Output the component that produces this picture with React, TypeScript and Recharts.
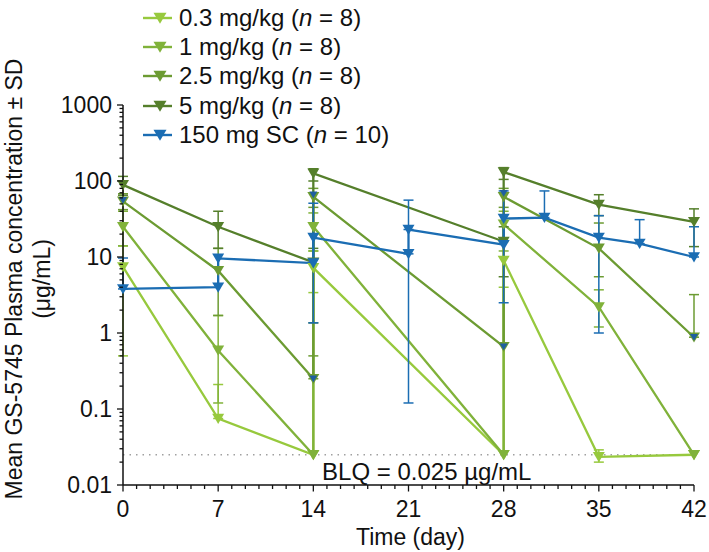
import React from "react";
import {
  ComposedChart,
  Line,
  XAxis,
  YAxis,
  ErrorBar,
  ReferenceLine,
  Legend,
} from "recharts";

const FONT = '"Liberation Sans", Arial, Helvetica, sans-serif';
const INK = "#111";

// IV cohorts: dose at day 0, 14, 28 (trough then peak at the dosing days)
const ivDays = [0, 7, 14, 14, 28, 28, 35, 42];

const mean03 = [7.4, 0.075, 0.025, 7.2, 0.025, 9.0, 0.0235, 0.025];
const lo03 = [0.5, null, null, 3.4, null, 4.0, 0.02, null];
const hi03 = [14, 0.21, null, 12, null, 16, 0.029, null];

const mean1 = [25, 0.59, 0.025, 25, 0.025, 27, 2.2, 0.025];
const lo1 = [14, 0.12, null, 12, null, 12, 1.2, null];
const hi1 = [40, 1.7, null, 38, null, 40, 3.7, null];

const mean25 = [54, 6.6, 0.25, 62, 0.66, 62, 13, 0.88];
const lo25 = [42, 1.7, null, 45, null, 45, 5.5, null];
const hi25 = [68, 13, 0.5, 80, null, 80, 28, 3.2];

const mean5 = [89, 25, 8.5, 126, 16, 131, 49, 29];
const lo5 = [65, 13, 1.36, 100, 5.5, 105, 35, 13.7];
const hi5 = [115, 40, 13, 145, 25, 150, 66, 43];

// SC cohort: weekly dosing
const scDays = [0, 7, 7, 14, 14, 21, 21, 28, 28, 31, 35, 38, 42];
const meanSC = [3.8, 4.0, 9.6, 8.3, 18, 11, 23, 14.5, 32, 33, 18, 15, 10];
const loSC = [null, null, null, null, 1.36, 0.12, null, null, 2.5, null, 1.0, null, null];
const hiSC = [9.7, null, null, null, 51, null, 56, null, 74, 74, 35, 31, 25];

// small blue markers sitting on the 2.5 mg/kg dosing-day points
const blueDotDays = [0, 14, 14, 28, 28, 42];
const blueDotVals = [56, 0.25, 66, 0.66, 69, 0.88];

const doseLabels = ["0.3 mg/kg", "1 mg/kg", "2.5 mg/kg", "5 mg/kg", "150 mg SC"];
const nValues = [8, 8, 8, 8, 10];
const colors = ["#97c93d", "#80b23a", "#6c9b32", "#557f2b", "#1b6db3"];

const xMajor = [0, 7, 14, 21, 28, 35, 42];
const xTicks = Array.from({ length: 43 }, (_, i) => i);
const yMajor = [0.01, 0.1, 1, 10, 100, 1000];
const yMajorLabels = ["0.01", "0.1", "1", "10", "100", "1000"];
const yMinorFactors = [2, 3, 4, 5, 6, 7, 8, 9];
const yTicks = [
  ...yMajor.slice(0, -1).flatMap((d) => [d, ...yMinorFactors.map((m) => d * m)]),
  1000,
];

const BLQ = 0.025;

function rows(days: number[], mean: number[], lo: (number | null)[], hi: (number | null)[]) {
  return days.map((d, i) => {
    const l = lo[i];
    const h = hi[i];
    const err =
      l == null && h == null
        ? null
        : [l == null ? 0 : mean[i] - l, h == null ? 0 : h - mean[i]];
    return { day: d, conc: mean[i], err };
  });
}

const series = [
  rows(ivDays, mean03, lo03, hi03),
  rows(ivDays, mean1, lo1, hi1),
  rows(ivDays, mean25, lo25, hi25),
  rows(ivDays, mean5, lo5, hi5),
  rows(scDays, meanSC, loSC, hiSC),
];

const blueDots = blueDotDays.map((d, i) => ({ day: d, conc: blueDotVals[i] }));

function triPath(cx: number, cy: number, s: number) {
  return `M${cx - s},${cy - s * 0.8} L${cx + s},${cy - s * 0.8} L${cx},${cy + s * 0.9} Z`;
}

function makeDot(color: string, size: number, id: string) {
  return (p: any) => {
    if (p.cx == null || p.cy == null) return <g key={`${id}-${p.index}`} />;
    return <path key={`${id}-${p.index}`} d={triPath(p.cx, p.cy, size)} fill={color} />;
  };
}

function YTick(props: any) {
  const { x, y, payload } = props;
  const idx = yMajor.indexOf(payload.value);
  const major = idx >= 0;
  return (
    <g>
      <line x1={x} x2={x - (major ? 6 : 3.5)} y1={y} y2={y} stroke={INK} strokeWidth={1.3} />
      {major && (
        <text
          x={x - 11}
          y={y}
          textAnchor="end"
          dominantBaseline="central"
          fontSize={23}
          fontFamily={FONT}
          fill={INK}
        >
          {yMajorLabels[idx]}
        </text>
      )}
    </g>
  );
}

function XTick(props: any) {
  const { x, y, payload } = props;
  const major = xMajor.includes(payload.value);
  return (
    <g>
      <line x1={x} x2={x} y1={y} y2={y + (major ? 6.5 : 4)} stroke={INK} strokeWidth={1.3} />
      {major && (
        <text
          x={x}
          y={y + 24}
          textAnchor="middle"
          dominantBaseline="central"
          fontSize={23}
          fontFamily={FONT}
          fill={INK}
        >
          {payload.value}
        </text>
      )}
    </g>
  );
}

function YTitle(props: any) {
  const vb = props.viewBox;
  const cy = vb.y + vb.height / 2 - 16;
  const x1 = 22;
  const x2 = 50;
  return (
    <g fontFamily={FONT} fontSize={23} fill={INK}>
      <text x={x1} y={cy} textAnchor="middle" transform={`rotate(-90, ${x1}, ${cy})`}>
        Mean GS-5745 Plasma concentration ± SD
      </text>
      <text x={x2} y={cy} textAnchor="middle" transform={`rotate(-90, ${x2}, ${cy})`}>
        (μg/mL)
      </text>
    </g>
  );
}

function XTitle(props: any) {
  const vb = props.viewBox;
  return (
    <text
      x={vb.x + vb.width / 2 + 2}
      y={vb.y + 60}
      textAnchor="middle"
      fontFamily={FONT}
      fontSize={23}
      fill={INK}
    >
      Time (day)
    </text>
  );
}

function BlqLabel(props: any) {
  const vb = props.viewBox;
  return (
    <text
      x={vb.x + vb.width * 0.532}
      y={vb.y + 25}
      textAnchor="middle"
      fontFamily={FONT}
      fontSize={24}
      fill={INK}
    >
      BLQ = 0.025 µg/mL
    </text>
  );
}

function LegendBox() {
  return (
    <div style={{ fontFamily: FONT, fontSize: 24, color: INK, lineHeight: "28px" }}>
      {doseLabels.map((dose, i) => (
        <div key={dose} style={{ display: "flex", alignItems: "center", height: 29.3 }}>
          <svg width={30} height={20} style={{ overflow: "visible" }}>
            <line x1={0} x2={29} y1={10} y2={10} stroke={colors[i]} strokeWidth={2.4} />
            <path d={triPath(17, 10, 6.5)} fill={colors[i]} />
          </svg>
          <span style={{ marginLeft: 6, whiteSpace: "nowrap" }}>
            {dose} (<i>n</i> = {nValues[i]})
          </span>
        </div>
      ))}
    </div>
  );
}

export default function App() {
  return (
    <div style={{ position: "absolute", top: 0, left: 0, width: 709, height: 552 }}>
      <ComposedChart width={709} height={552} margin={{ top: 105, right: 15, bottom: 0, left: 0 }}>
        <XAxis
          type="number"
          dataKey="day"
          domain={[0, 42]}
          ticks={xTicks}
          interval={0}
          tick={(p: any) => <XTick {...p} />}
          tickLine={false}
          tickSize={0}
          tickMargin={0}
          axisLine={{ stroke: INK, strokeWidth: 1.5 }}
          height={67}
          label={(p: any) => <XTitle {...p} />}
        />
        <YAxis
          type="number"
          scale="log"
          domain={[0.01, 1000]}
          allowDataOverflow
          ticks={yTicks}
          interval={0}
          tick={(p: any) => <YTick {...p} />}
          tickLine={false}
          tickSize={0}
          tickMargin={0}
          axisLine={{ stroke: INK, strokeWidth: 1.5 }}
          width={123}
          label={(p: any) => <YTitle {...p} />}
        />
        <Legend
          layout="vertical"
          align="center"
          verticalAlign="middle"
          wrapperStyle={{ top: 3, left: 143, width: 320 }}
          content={() => <LegendBox />}
        />
        <ReferenceLine
          y={BLQ}
          stroke="#a0a0a0"
          strokeWidth={1.6}
          strokeDasharray="1.5 5"
          label={(p: any) => <BlqLabel {...p} />}
        />
        {series.map((data, i) => (
          <Line
            key={doseLabels[i]}
            data={data}
            dataKey="conc"
            name={`${doseLabels[i]} (n = ${nValues[i]})`}
            type="linear"
            stroke={colors[i]}
            strokeWidth={2.3}
            dot={makeDot(colors[i], 6, `s${i}`)}
            activeDot={false}
            isAnimationActive={false}
          >
            <ErrorBar
              dataKey="err"
              direction="y"
              width={5}
              stroke={colors[i]}
              strokeWidth={1.5}
              isAnimationActive={false}
            />
          </Line>
        ))}
        <Line
          data={blueDots}
          dataKey="conc"
          name="blue markers"
          legendType="none"
          stroke="none"
          dot={makeDot("#1f5fa0", 4, "bd")}
          activeDot={false}
          isAnimationActive={false}
        />
      </ComposedChart>
    </div>
  );
}
